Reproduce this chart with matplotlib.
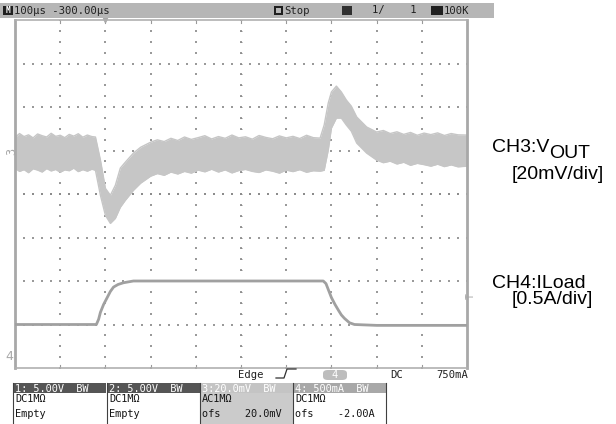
import numpy as np
import matplotlib.pyplot as plt
from matplotlib.patches import Rectangle, FancyBboxPatch

# SCOPE SETTINGS -----------------------------------------------------------------------------------
time_div = 100.0    # us/div
ch3_scale = 20.0    # mV/div
ch3_offset = 20.0   # mV
ch4_scale = 0.5     # A/div
ch4_offset = -2.0   # A
trig_level = 0.75   # A

# CH3 (Vout, AC coupled) - upper / lower edge of the noisy band, mV
ch3_t = [-200, -190, -180, -170, -160, -150, -140, -130, -120, -110, -100, -90, -80, -70, -60, -50,
         -40, -30, -22, -11, 0, 11, 22, 33, 44, 62, 78,
         100, 115, 130, 145, 160, 175, 190, 205, 220, 235, 250, 265, 280, 295, 310, 325, 340, 355,
         370, 385, 400, 415, 430, 445, 460, 475,
         484, 493, 500, 511, 522, 533, 544, 556, 578,
         600, 615, 630, 645, 660, 675, 690, 705, 720, 735, 750, 765, 780, 800]
ch3_hi = [6.0, 7.8, 6.4, 7.2, 5.8, 7.6, 6.8, 6.2, 7.9, 6.5, 7.0, 5.9, 7.4, 6.6, 7.7, 6.1,
          7.1, 6.4, 6.2, -4.4, -17.4, -20.6, -16.0, -8.1, -5.4, -1.2, 1.5,
          3.8, 4.9, 4.1, 5.6, 4.6, 6.2, 5.1, 5.9, 6.8, 5.3, 6.4, 5.6, 7.1, 5.8, 6.3, 5.2, 6.9, 6.0,
          5.4, 6.7, 5.8, 6.5, 5.5, 7.0, 5.9, 5.7,
          11.7, 21.8, 26.9, 29.6, 26.9, 23.2, 20.4, 15.4, 10.8,
          8.5, 9.2, 7.8, 8.6, 7.4, 8.3, 7.0, 8.0, 7.3, 8.1, 6.9, 7.8, 7.2, 7.1]
ch3_lo = [-8.2, -9.6, -8.8, -10.2, -8.4, -9.0, -9.9, -8.3, -9.4, -8.7, -10.0, -8.9, -9.3, -8.1,
          -9.7, -8.8, -9.5, -8.6, -9.1, -20.6, -29.8, -33.5, -31.2, -26.1, -22.9, -18.3, -15.0,
          -11.8, -10.6, -11.4, -9.9, -10.8, -9.6, -10.4, -9.0, -9.8, -8.6, -9.9, -8.9, -10.3, -9.2,
          -8.7, -9.6, -10.1, -8.9, -9.5, -10.4, -9.0, -9.7, -8.8, -10.0, -9.3, -9.5,
          -9.1, 0.2, 10.3, 14.9, 14.9, 11.7, 8.9, 3.4, -1.2,
          -4.4, -5.6, -4.9, -6.2, -5.4, -6.8, -5.9, -6.5, -7.2, -6.3, -7.4, -6.6, -7.5, -7.2]

# CH4 (load current), A
ch4_t = [-200, -20, -15, -11, -4, 4, 11, 18, 28, 40, 62, 150, 300, 420, 482, 488, 494, 500, 508,
         516, 522, 529, 540, 551, 600, 700, 800]
ch4_i = [0.50, 0.50, 0.56, 0.64, 0.73, 0.81, 0.88, 0.93, 0.96, 0.98, 1.00, 1.00, 1.00, 1.00, 1.00,
         0.97, 0.89, 0.81, 0.73, 0.66, 0.61, 0.57, 0.52, 0.50, 0.49, 0.49, 0.49]


W, H = 616, 424

def fx(x):
    return x / W

def fy(y):
    return 1 - y / H

def put(x, y, s, **kw):
    kw.setdefault('family', 'DejaVu Sans Mono')
    kw.setdefault('fontsize', 7.6)
    kw.setdefault('va', 'center')
    fig.text(fx(x), fy(y), s, **kw)

def box(x, y, w, h, color):
    # x, y = top-left corner in pixels
    fig.patches.append(Rectangle((fx(x), fy(y + h)), fx(w), h / H, transform=fig.transFigure,
                                 facecolor=color, edgecolor='none'))


fig = plt.figure(figsize=(W / 100, H / 100), dpi=100)
fig.patch.set_facecolor('white')

# SCREEN -------------------------------------------------------------------------------------------
ax = fig.add_axes([fx(15), fy(368), fx(452), 348 / H])
ax.set_xlim(-2 * time_div, 8 * time_div)
ax.set_ylim(-4, 4)
ax.set_xticks([])
ax.set_yticks([])
for side in ['left', 'right']:
    ax.spines[side].set_color('#a8a8a8')
    ax.spines[side].set_linewidth(2.0)
for side in ['top', 'bottom']:
    ax.spines[side].set_color('#b0b0b0')
    ax.spines[side].set_linewidth(1.2)

# dotted graticule
dot = dict(s=1.6, c='#9a9a9a', marker='s', linewidths=0, zorder=1)
for yd in range(-3, 4):
    xs = np.arange(-200, 801, 20)
    ax.scatter(xs, np.full_like(xs, yd, dtype=float), **dot)
for k in range(1, 10):
    xd = -200 + k * time_div
    ys = np.arange(-4, 4.01, 0.25)
    ax.scatter(np.full_like(ys, xd), ys, **dot)
# centre cross, slightly heavier marks
ax.scatter(np.arange(-200, 801, 20), np.zeros(51), s=3, c='#8c8c8c', marker='s', linewidths=0, zorder=1)
ax.scatter(np.full(33, 300), np.arange(-4, 4.01, 0.25), s=4, c='#8c8c8c', marker='_', linewidths=0.7, zorder=1)
# edge ticks
for xd in range(-100, 800, 100):
    ax.plot([xd, xd], [3.93, 4], color='#9a9a9a', lw=0.8)
    ax.plot([xd, xd], [-4, -3.93], color='#9a9a9a', lw=0.8)

# traces
ch3_hi_div = (np.array(ch3_hi) + ch3_offset) / ch3_scale
ch3_lo_div = (np.array(ch3_lo) + ch3_offset) / ch3_scale
ax.fill_between(ch3_t, ch3_lo_div, ch3_hi_div, color='#c6c6c6', lw=0, zorder=2)
ax.plot(ch3_t, ch3_hi_div, color='#c6c6c6', lw=1.0, zorder=2)
ax.plot(ch3_t, ch3_lo_div, color='#c6c6c6', lw=1.0, zorder=2)

ch4_div = (np.array(ch4_i) + ch4_offset) / ch4_scale
ax.plot(ch4_t, ch4_div, color='#a0a0a0', lw=2.0, zorder=3, solid_capstyle='butt')

# channel / trigger markers
put(12, 151, '3', color='#a8a8a8', fontsize=8.5, rotation=90, ha='center')
put(9, 357, '4', color='#a8a8a8', fontsize=9, ha='center', family='DejaVu Sans')
put(471, 296, 'T', color='#a8a8a8', fontsize=7, ha='center', rotation=90)
ax.plot([0], [4], marker='v', ms=3, color='#a8a8a8', clip_on=False)

# TOP STATUS BAR -----------------------------------------------------------------------------------
box(0, 3, 494, 15, '#b6b6b6')
box(3, 6, 10, 9, '#202020')
put(8, 10.5, 'M', color='white', fontsize=5.5, ha='center', weight='bold')
put(14, 10.5, '100µs -300.00µs', color='#202020')
box(274, 6, 9, 9, '#202020')
box(276, 8, 5, 5, '#b6b6b6')
put(284, 10.5, 'Stop', color='#202020')
box(342, 6, 10, 9, '#303030')
put(372, 10.5, '1/    1', color='#202020')
box(431, 6, 12, 9, '#202020')
put(444, 10.5, '100K', color='#202020')

# TRIGGER LINE -------------------------------------------------------------------------------------
put(238, 375, 'Edge', color='#202020')
fig.lines.append(plt.Line2D([fx(276), fx(284), fx(287), fx(296)],
                            [fy(378), fy(378), fy(369), fy(369)],
                            transform=fig.transFigure, color='#303030', lw=0.9))
fig.patches.append(FancyBboxPatch((fx(323), fy(380)), fx(24), 10 / H,
                                  boxstyle='round,pad=0,rounding_size=0.008',
                                  transform=fig.transFigure, facecolor='#bdbdbd', edgecolor='none'))
put(335, 375, '4', color='white', ha='center')
put(390, 375, 'DC', color='#202020')
put(436, 375, '750mA', color='#202020')

# CHANNEL PANEL ------------------------------------------------------------------------------------
heads = ['1: 5.00V  BW', '2: 5.00V  BW', '3:20.0mV  BW', '4: 500mA  BW']
row1 = ['DC1MΩ', 'DC1MΩ', 'AC1MΩ', 'DC1MΩ']
row2 = ['Empty', 'Empty', 'ofs    20.0mV', 'ofs    -2.00A']
head_col = ['#555555', '#555555', '#c4c4c4', '#a8a8a8']
body_col = ['white', 'white', '#cbcbcb', 'white']
x0 = [13, 107, 200, 293]
for k in range(4):
    box(x0[k], 383, 93, 10, head_col[k])
    box(x0[k], 393, 93, 31, body_col[k])
    fig.lines.append(plt.Line2D([fx(x0[k]), fx(x0[k])], [0, fy(383)], transform=fig.transFigure,
                                color='#404040', lw=0.8))
    put(x0[k] + 2, 388.5, heads[k], color='white', fontsize=7.4)
    put(x0[k] + 2, 399.5, row1[k], color='#151515', fontsize=7.4)
    put(x0[k] + 2, 414, row2[k], color='#151515', fontsize=7.4)
fig.lines.append(plt.Line2D([fx(386), fx(386)], [0, fy(383)], transform=fig.transFigure,
                            color='#404040', lw=0.8))

# LABELS -------------------------------------------------------------------------------------------
lab = dict(family='Liberation Sans', fontsize=14, color='black', va='center')
put(492, 147, 'CH3:V', **lab)
put(549, 153, 'OUT', **lab)
put(512, 174, '[20mV/div]', **lab)
put(492, 283, 'CH4:ILoad', **lab)
put(512, 300, '[0.5A/div]', **lab)

fig.savefig('out.png', dpi=100)
